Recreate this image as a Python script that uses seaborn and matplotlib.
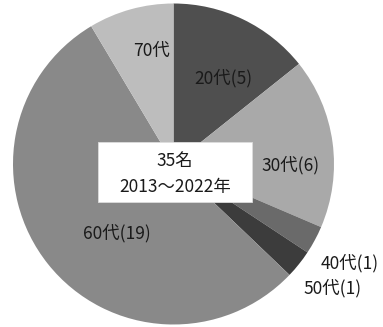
import matplotlib
matplotlib.use("Agg")
import matplotlib.pyplot as plt
from matplotlib.patches import Rectangle
import seaborn as sns

# Age groups and head counts
age_groups = ["20代", "30代", "40代", "50代", "60代", "70代"]
counts = [5, 6, 1, 1, 19, 3]
label_texts = ["20代(5)", "30代(6)", "40代(1)", "50代(1)", "60代(19)", "70代"]
total_label = "35名"
period_label = "2013～2022年"

# Grey shades for each wedge
colors = ["#4f4f4f", "#a9a9a9", "#6a6a6a", "#3c3c3c", "#898989", "#bdbdbd"]

sns.set_theme(style="white")
plt.rcParams["font.family"] = ["Noto Sans CJK JP", "DejaVu Sans"]

W, H = 383, 327
fig = plt.figure(figsize=(W / 100, H / 100), dpi=100)
ax = fig.add_axes([0, 0, 1, 1])

# pixel -> data mapping (pie of radius 1 centred at (cx, cy) px, r px per unit)
cx, cy, r = 173.5, 164, 160.5
def px(x, y):
    return (x - cx) / r, (cy - y) / r

ax.pie(counts, colors=colors, startangle=90, counterclock=False,
       radius=1.0, center=(0, 0), wedgeprops=dict(linewidth=0))

FS = 12.5
# label anchor points in pixel space
label_px = [(223, 78), (291, 165), (350, 263), (333, 288), (117, 233), (152, 51)]
for txt, (lx, ly) in zip(label_texts, label_px):
    x, y = px(lx, ly)
    ax.text(x, y, txt, ha="center", va="center", fontsize=FS, color="#1a1a1a")

# centre caption box
bx0, by0 = px(98, 202)
bx1, by1 = px(252, 142)
ax.add_patch(Rectangle((bx0, by0), bx1 - bx0, by1 - by0, facecolor="white",
                       edgecolor="#dddddd", linewidth=0.6, zorder=3))
tx, ty = px(175, 161)
ax.text(tx, ty, total_label, ha="center", va="center", fontsize=FS,
        color="#1a1a1a", zorder=4)
tx, ty = px(175, 187)
ax.text(tx, ty, period_label, ha="center", va="center", fontsize=FS,
        color="#1a1a1a", zorder=4)

ax.set_xlim(-cx / r, (W - cx) / r)
ax.set_ylim(-(H - cy) / r, cy / r)
ax.set_aspect("auto")
ax.axis("off")

fig.savefig("out.png", dpi=100, facecolor="white")
